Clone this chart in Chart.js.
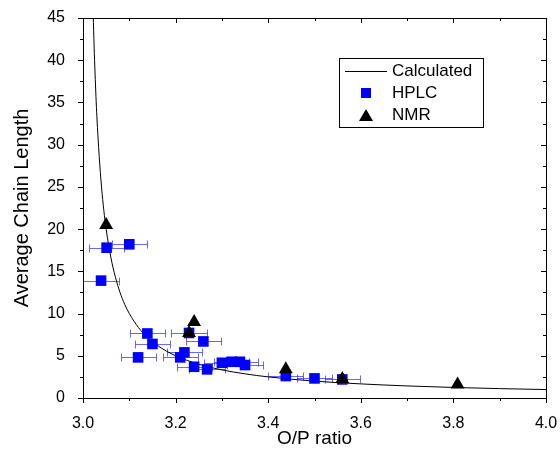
<!DOCTYPE html>
<html>
<head>
<meta charset="utf-8">
<script src="https://cdn.jsdelivr.net/npm/chart.js@4"></script>
<style>
  html, body { margin: 0; padding: 0; background: #fff; }
  #wrap { width: 560px; height: 455px; }
</style>
</head>
<body>
<div id="wrap"><canvas id="chart" width="560" height="455"></canvas></div>
<script>
// calculated chain length curve
let calcX = [3.021, 3.023, 3.025, 3.028, 3.03, 3.035, 3.04, 3.045, 3.05, 3.06, 3.07, 3.08, 3.09, 3.1,
             3.12, 3.14, 3.16, 3.18, 3.2, 3.25, 3.3, 3.35, 3.4, 3.5, 3.6, 3.7, 3.8, 3.9, 4.0];
let calcY = [47.6, 43.5, 40, 35.7, 33.3, 28.6, 25, 22.2, 20, 16.7, 14.3, 12.5, 11.1, 10,
             8.33, 7.14, 6.25, 5.56, 5, 4, 3.33, 2.86, 2.5, 2, 1.67, 1.43, 1.25, 1.11, 1.0];

// HPLC measurements (x error bars)
let hplcX = [3.051, 3.100, 3.039, 3.139, 3.150, 3.119, 3.219, 3.210, 3.229, 3.260, 3.240, 3.268,
             3.300, 3.321, 3.339, 3.350, 3.438, 3.500, 3.560];
let hplcY = [17.8, 18.2, 13.9, 7.64, 6.4, 4.81, 5.4, 4.81, 7.7, 6.7, 3.7, 3.39,
             4.17, 4.29, 4.29, 3.9, 2.6, 2.32, 2.2];
let hplcErr = [0.038, 0.038, 0.038, 0.038, 0.038, 0.038, 0.038, 0.038, 0.038, 0.038, 0.038, 0.038,
               0.038, 0.038, 0.038, 0.038, 0.038, 0.038, 0.038];

// NMR measurements
let nmrX = [3.050, 3.240, 3.229, 3.438, 3.560, 3.809];
let nmrY = [20.5, 9.0, 7.7, 3.4, 2.24, 1.6];

let fontFam = "'Liberation Sans', Arial, sans-serif";

function pts(xs, ys) { return xs.map((x, i) => ({ x: x, y: ys[i] })); }

// error bars, frame, ticks and legend drawn on top of the chart
let decor = {
  id: 'decor',
  beforeDatasetsDraw(chart) {
    let ctx = chart.ctx, xs = chart.scales.x, ys = chart.scales.y;
    ctx.save();
    ctx.strokeStyle = 'rgba(40,40,255,0.7)';
    ctx.lineWidth = 1;
    hplcX.forEach((v, i) => {
      let x1 = Math.round(xs.getPixelForValue(v - hplcErr[i])) + 0.5;
      let x2 = Math.round(xs.getPixelForValue(v + hplcErr[i])) + 0.5;
      let y = Math.round(ys.getPixelForValue(hplcY[i])) + 0.5;
      ctx.beginPath();
      ctx.moveTo(x1, y); ctx.lineTo(x2, y);
      ctx.moveTo(x1, y - 4); ctx.lineTo(x1, y + 4);
      ctx.moveTo(x2, y - 4); ctx.lineTo(x2, y + 4);
      ctx.stroke();
    });
    ctx.restore();
  },
  afterDraw(chart) {
    let ctx = chart.ctx, a = chart.chartArea, xs = chart.scales.x, ys = chart.scales.y;
    ctx.save();
    ctx.strokeStyle = '#000';
    ctx.lineWidth = 1;
    ctx.strokeRect(Math.round(a.left) + 0.5, Math.round(a.top) + 0.5,
                   Math.round(a.right - a.left), Math.round(a.bottom - a.top));
    ctx.beginPath();
    for (let k = 0; k <= 18; k++) {
      let v = k * 2.5;
      let y = Math.round(ys.getPixelForValue(v)) + 0.5;
      let len = k % 2 === 0 ? 5 : 3;
      ctx.moveTo(a.left, y); ctx.lineTo(a.left - len, y);
      ctx.moveTo(a.right, y); ctx.lineTo(a.right - len, y);
    }
    for (let k = 0; k <= 10; k++) {
      let v = 3 + k * 0.1;
      let x = Math.round(xs.getPixelForValue(v)) + 0.5;
      let len = k % 2 === 0 ? 5 : 3;
      ctx.moveTo(x, a.bottom); ctx.lineTo(x, a.bottom + len);
      ctx.moveTo(x, a.top); ctx.lineTo(x, a.top + len);
    }
    ctx.stroke();

    // legend box
    let bx = Math.round(a.left) + 256, by = Math.round(a.top) + 40, bw = 144, bh = 69;
    ctx.fillStyle = '#fff';
    ctx.fillRect(bx, by, bw, bh);
    ctx.strokeRect(bx + 0.5, by + 0.5, bw, bh);
    ctx.font = '17px ' + fontFam;
    ctx.textBaseline = 'middle';
    ctx.textAlign = 'left';
    ctx.fillStyle = '#000';
    let mx = bx + 27, tx = bx + 53;
    ctx.beginPath();
    ctx.moveTo(bx + 6, by + 13.5); ctx.lineTo(bx + 48, by + 13.5);
    ctx.stroke();
    ctx.fillText('Calculated', tx, by + 13);
    ctx.fillStyle = '#0000ff';
    ctx.fillRect(mx - 5, by + 35 - 5, 10, 10);
    ctx.fillStyle = '#000';
    ctx.fillText('HPLC', tx, by + 35);
    ctx.beginPath();
    ctx.moveTo(mx, by + 51); ctx.lineTo(mx + 7, by + 63); ctx.lineTo(mx - 7, by + 63);
    ctx.closePath();
    ctx.fill();
    ctx.fillText('NMR', tx, by + 57);
    ctx.restore();
  }
};

let ctx = document.getElementById('chart').getContext('2d');
let chart = new Chart(ctx, {
  type: 'scatter',
  data: {
    datasets: [
      {
        label: 'Calculated',
        data: pts(calcX, calcY),
        showLine: true,
        borderColor: '#000',
        borderWidth: 1,
        pointRadius: 0,
        cubicInterpolationMode: 'monotone',
        order: 3
      },
      {
        label: 'HPLC',
        data: pts(hplcX, hplcY),
        pointStyle: 'rect',
        pointRadius: 7.5,
        backgroundColor: '#0000ff',
        borderColor: '#0000ff',
        borderWidth: 0,
        order: 2
      },
      {
        label: 'NMR',
        data: pts(nmrX, nmrY),
        pointStyle: 'triangle',
        pointRadius: 8,
        backgroundColor: '#000',
        borderColor: '#000',
        borderWidth: 0,
        order: 1
      }
    ]
  },
  plugins: [decor],
  options: {
    responsive: false,
    animation: false,
    layout: { padding: { left: 0, right: 14, top: 18, bottom: 0 } },
    plugins: { legend: { display: false }, tooltip: { enabled: false } },
    scales: {
      x: {
        type: 'linear',
        min: 3.0, max: 4.0,
        grid: { display: false },
        border: { display: false },
        ticks: {
          stepSize: 0.2,
          padding: 8,
          color: '#000',
          font: { family: fontFam, size: 16 },
          callback: v => v.toFixed(1)
        },
        title: {
          display: true, text: 'O/P ratio', color: '#000',
          font: { family: fontFam, size: 19 },
          padding: { top: 0, bottom: 5 }
        },
        afterFit: s => { s.height = 57; s.paddingLeft = 0; s.paddingRight = 0; }
      },
      y: {
        min: 0, max: 45,
        grid: { display: false },
        border: { display: false },
        ticks: {
          stepSize: 5,
          padding: 10,
          color: '#000',
          font: { family: fontFam, size: 16 }
        },
        title: {
          display: true, text: 'Average Chain Length', color: '#000',
          font: { family: fontFam, size: 20 },
          padding: { top: 10, bottom: 4 }
        },
        afterFit: s => { s.width = 83; s.paddingTop = 0; s.paddingBottom = 0; }
      }
    }
  }
});
</script>
</body>
</html>
